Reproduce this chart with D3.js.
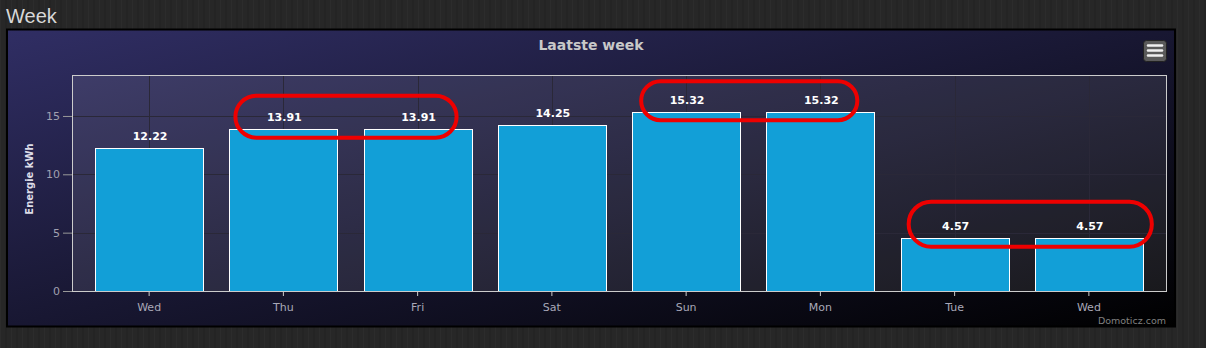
<!DOCTYPE html>
<html><head><meta charset="utf-8">
<script src="https://cdn.jsdelivr.net/npm/d3@7"></script>
<style>
html,body{margin:0;padding:0;width:1206px;height:348px;overflow:hidden;
background:#272727;
background-image:repeating-linear-gradient(90deg,rgba(255,255,255,0.025) 0px,rgba(255,255,255,0.025) 1px,rgba(0,0,0,0) 1px,rgba(0,0,0,0) 5px,rgba(0,0,0,0.08) 5px,rgba(0,0,0,0.08) 7px,rgba(0,0,0,0) 7px,rgba(0,0,0,0) 11px);}
svg{position:absolute;left:0;top:0;}
</style></head>
<body>
<svg id="c" width="1206" height="348"></svg>
<script>
const categories = ["Wed","Thu","Fri","Sat","Sun","Mon","Tue","Wed"];
const values = [12.22, 13.91, 13.91, 14.25, 15.32, 15.32, 4.57, 4.57];
const yTicks = [0, 5, 10, 15];
const title = "Laatste week";
const yLabel = "Energie kWh";
const pageTitle = "Week";
const credit = "Domoticz.com";
// annotation highlights: pairs of category indices circled in red
const highlights = [[1,2],[4,5],[6,7]];
// shape tweaks of the hand-drawn outlines (left inset, right inset, top offset, height)
const highlightShape = [[6,-15,33,42],[9,-17,31,39],[8,9,36,45]];

const svg = d3.select("#c");
const defs = svg.append("defs");
const bg = defs.append("linearGradient").attr("id","bgGrad")
  .attr("x1","0").attr("y1","0").attr("x2","1").attr("y2","1");
bg.append("stop").attr("offset","0").attr("stop-color","rgb(48,46,100)");
bg.append("stop").attr("offset","1").attr("stop-color","rgb(0,0,0)");

svg.append("text").attr("x",6).attr("y",23).text(pageTitle)
  .attr("font-family","Liberation Sans, Arial, sans-serif").attr("font-size",20)
  .attr("fill","#d8d8d8");

// chart container
svg.append("rect").attr("x",7).attr("y",29.5).attr("width",1168).attr("height",297)
  .attr("fill","url(#bgGrad)").attr("stroke","#000").attr("stroke-width",2);

const L=72, R=1167, T=75, B=291;
const AL=82, AR=1156; // axis min/max padding inside plot
const xc = d3.scaleBand().domain(d3.range(categories.length)).range([AL,AR]);
const x = d3.scaleBand().domain(d3.range(categories.length)).range([AL,AR]).paddingInner(0.196).paddingOuter(0.098);
const y = d3.scaleLinear().domain([0,18.51]).range([B,T]);

// plot background
svg.append("rect").attr("x",L).attr("y",T).attr("width",R-L).attr("height",B-T)
  .attr("fill","rgba(255,255,255,0.09)");

// grid
const g = svg.append("g");
g.selectAll("line.h").data(yTicks.slice(1)).join("line")
  .attr("x1",L).attr("x2",R).attr("y1",d=>Math.round(y(d))+0.5).attr("y2",d=>Math.round(y(d))+0.5)
  .attr("stroke","#2a2838").attr("stroke-width",1);
g.selectAll("line.v").data(d3.range(categories.length)).join("line")
  .attr("y1",T).attr("y2",B).attr("x1",d=>Math.round(xc(d)+xc.bandwidth()/2)+0.5).attr("x2",d=>Math.round(xc(d)+xc.bandwidth()/2)+0.5)
  .attr("stroke","#2a2838").attr("stroke-width",1);

// bars
svg.append("g").selectAll("rect").data(values).join("rect")
  .attr("x",(d,i)=>Math.round(x(i))+0.5).attr("y",d=>Math.round(y(d))+0.5)
  .attr("width",Math.round(x.bandwidth())).attr("height",d=>B-Math.round(y(d)))
  .attr("fill","#129fd7").attr("stroke","#fff").attr("stroke-width",1);

// plot border
svg.append("rect").attr("x",L+0.5).attr("y",T+0.5).attr("width",R-L-1).attr("height",B-T)
  .attr("fill","none").attr("stroke","#cccccc").attr("stroke-width",1);

// data labels
svg.append("g").selectAll("text").data(values).join("text")
  .attr("x",(d,i)=>x(i)+x.bandwidth()/2+1).attr("y",d=>y(d)-8)
  .attr("text-anchor","middle").text(d=>d.toFixed(2))
  .attr("font-family","DejaVu Sans, Verdana, sans-serif").attr("font-weight","bold")
  .attr("font-size",11).attr("fill","#fff");

// x axis
const xa = svg.append("g").attr("transform",`translate(0,${B})`)
  .call(d3.axisBottom(xc).tickFormat(i=>categories[i]).tickSize(5).tickSizeOuter(0));
xa.select(".domain").remove();
xa.selectAll(".tick line").attr("stroke","#cccccc");
xa.selectAll(".tick text").attr("fill","#a8a8b8").attr("font-size",11).attr("dy","1.05em")
  .attr("font-family","DejaVu Sans, Verdana, sans-serif");

// y axis
const ya = svg.append("g").attr("transform",`translate(${L},0)`)
  .call(d3.axisLeft(y).tickValues(yTicks).tickSize(9).tickPadding(3));
ya.select(".domain").remove();
ya.selectAll(".tick line").attr("stroke","#999");
ya.selectAll(".tick text").attr("fill","#a0a0b0").attr("font-size",11)
  .attr("font-family","DejaVu Sans, Verdana, sans-serif");

svg.append("text").attr("transform",`translate(33,${(T+B)/2-4}) rotate(-90)`)
  .attr("text-anchor","middle").text(yLabel)
  .attr("font-family","DejaVu Sans, Verdana, sans-serif").attr("font-weight","bold")
  .attr("font-size",10).attr("fill","#dddde8");

// title
svg.append("text").attr("x",591).attr("y",50).attr("text-anchor","middle").text(title)
  .attr("font-family","DejaVu Sans, Verdana, sans-serif").attr("font-weight","bold")
  .attr("font-size",14).attr("fill","#c8c8c8");

// menu button
const mb = svg.append("g");
mb.append("rect").attr("x",1143.5).attr("y",40.5).attr("width",23).attr("height",21).attr("rx",3)
  .attr("fill","#5a5a5a").attr("stroke","#222");
[45.5,50.5,55.5].forEach(yy=>mb.append("line").attr("x1",1148).attr("x2",1162).attr("y1",yy).attr("y2",yy)
  .attr("stroke","#f0f0f0").attr("stroke-width",2.5).attr("stroke-linecap","round"));

// credit
svg.append("text").attr("x",1166).attr("y",324).attr("text-anchor","end").text(credit)
  .attr("font-family","DejaVu Sans, Verdana, sans-serif").attr("font-size",9.5).attr("fill","#808080");

// red highlight outlines
svg.append("g").selectAll("rect").data(highlights).join("rect")
  .attr("x",(d,k)=>x(d[0])+highlightShape[k][0])
  .attr("width",(d,k)=>x(d[1])+x.bandwidth()+highlightShape[k][1]-(x(d[0])+highlightShape[k][0]))
  .attr("y",(d,k)=>y(d3.max(d.map(i=>values[i])))-highlightShape[k][2])
  .attr("height",(d,k)=>highlightShape[k][3])
  .attr("rx",(d,k)=>highlightShape[k][3]/2)
  .attr("fill","none").attr("stroke","#ee0000").attr("stroke-width",4);
</script>
</body></html>
